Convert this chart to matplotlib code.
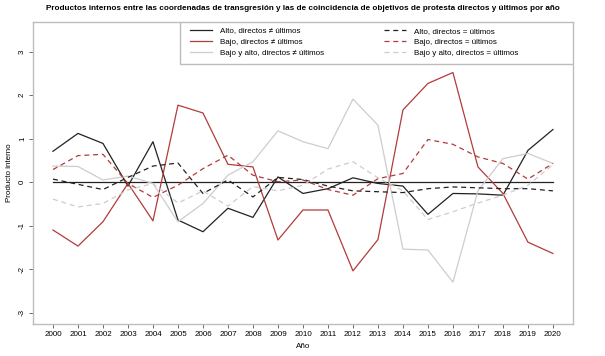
import matplotlib
matplotlib.use("Agg")
import matplotlib.pyplot as plt
from matplotlib.lines import Line2D
from matplotlib.patches import Rectangle

plt.rcParams["font.family"] = ["Liberation Sans", "DejaVu Sans"]

YEARS = list(range(2000, 2021))

ALTO_DISTINTOS = [0.71, 1.12, 0.89, -0.09, 0.93, -0.87, -1.14, -0.60, -0.81, 0.12, -0.26,
                  -0.15, 0.10, -0.03, -0.09, -0.74, -0.26, -0.27, -0.30, 0.73, 1.21]
BAJO_DISTINTOS = [-1.10, -1.47, -0.91, -0.03, -0.89, 1.77, 1.59, 0.41, 0.35, -1.33, -0.64,
                  -0.64, -2.04, -1.32, 1.66, 2.27, 2.52, 0.35, -0.26, -1.38, -1.64]
AMBOS_DISTINTOS = [0.37, 0.36, 0.05, 0.14, -0.03, -0.91, -0.49, 0.16, 0.47, 1.18, 0.93,
                   0.77, 1.91, 1.31, -1.54, -1.56, -2.30, -0.20, 0.54, 0.66, 0.43]
ALTO_IGUALES = [0.07, -0.05, -0.17, 0.11, 0.37, 0.44, -0.26, 0.05, -0.34, 0.11, 0.06,
                -0.09, -0.20, -0.22, -0.24, -0.15, -0.11, -0.13, -0.15, -0.15, -0.20]
BAJO_IGUALES = [0.29, 0.61, 0.64, -0.03, -0.35, -0.07, 0.31, 0.62, 0.16, 0.01, 0.05,
                -0.17, -0.30, 0.08, 0.20, 0.98, 0.87, 0.58, 0.43, 0.07, 0.43]
AMBOS_IGUALES = [-0.39, -0.57, -0.49, -0.18, -0.03, -0.48, -0.20, -0.55, -0.10, -0.20, -0.07,
                 0.30, 0.47, 0.10, -0.20, -0.86, -0.68, -0.48, -0.30, -0.07, 0.40]

LABELS = [
    "Alto, directos \u2260 \u00faltimos",
    "Bajo, directos \u2260 \u00faltimos",
    "Bajo y alto, directos \u2260 \u00faltimos",
    "Alto, directos = \u00faltimos",
    "Bajo, directos = \u00faltimos",
    "Bajo y alto, directos = \u00faltimos",
]

BLACK = "#222222"
RED = "#B23B3B"
GRAY = "#CDCDCD"
AXIS_GRAY = "#BDBDBD"
DASH = (0, (4, 3))

SERIES = [
    (ALTO_DISTINTOS, BLACK, "-"),
    (BAJO_DISTINTOS, RED, "-"),
    (AMBOS_DISTINTOS, GRAY, "-"),
    (ALTO_IGUALES, BLACK, DASH),
    (BAJO_IGUALES, RED, DASH),
    (AMBOS_IGUALES, GRAY, DASH),
]


def main() -> None:
    fig = plt.figure(figsize=(6.05, 3.56), dpi=100)
    ax = fig.add_axes([0.0545, 0.090, 0.8925, 0.848])

    # reference line at zero, only over the years
    ax.plot(YEARS, [0] * len(YEARS), color=BLACK, linewidth=0.9)

    handles = []
    for (values, color, style), label in zip(SERIES, LABELS):
        ax.plot(YEARS, values, color=color, linestyle=style, linewidth=0.9)
        handles.append(Line2D([], [], color=color, linestyle=style, linewidth=0.9, label=label))

    ax.set_xlim(1999.2, 2020.8)
    ax.set_ylim(-3.26, 3.68)
    ax.set_xticks(YEARS)
    ax.set_xticklabels([str(y) for y in YEARS])
    ax.set_yticks([-3, -2, -1, 0, 1, 2, 3])
    ax.set_yticklabels(["-3", "-2", "-1", "0", "1", "2", "3"], rotation=90, va="center")
    ax.tick_params(axis="both", labelsize=5.8, length=3, width=0.6, color="#555555", pad=2)

    for spine in ax.spines.values():
        spine.set_color(AXIS_GRAY)
        spine.set_linewidth(1.0)

    ax.set_xlabel("A\u00f1o", fontsize=5.8, labelpad=4)
    ax.set_ylabel("Producto interno", fontsize=5.8, labelpad=4)
    fig.text(
        0.5, 0.977,
        "Productos internos entre las coordenadas de transgresi\u00f3n y las de coincidencia "
        "de objetivos de protesta directos y \u00faltimos por a\u00f1o",
        fontsize=5.9, fontweight="bold", ha="center", va="center",
    )

    # legend box (R style): frame drawn separately, spans to the right edge
    ax.add_patch(Rectangle((0.272, 0.862), 0.728, 0.138, transform=ax.transAxes,
                           facecolor="white", edgecolor=AXIS_GRAY, linewidth=1.0, zorder=4))
    ax.legend(
        handles=handles,
        ncol=2,
        loc="upper left",
        bbox_to_anchor=(0.2907, 0.982),
        fontsize=5.8,
        frameon=False,
        handlelength=2.73,
        handletextpad=1.0,
        columnspacing=7.4,
        borderaxespad=0.0,
        borderpad=0.0,
        labelspacing=0.42,
    ).set_zorder(5)

    fig.savefig("out.png", dpi=100)
    plt.close(fig)


if __name__ == "__main__":
    main()
